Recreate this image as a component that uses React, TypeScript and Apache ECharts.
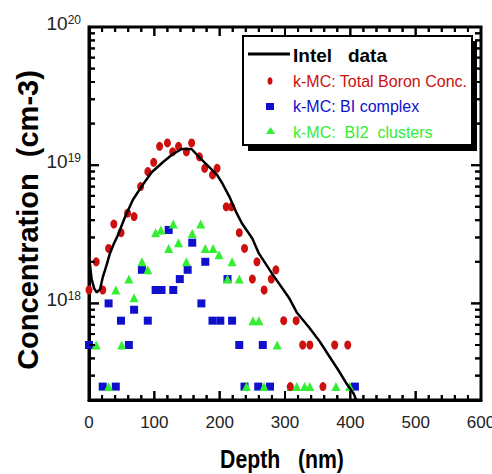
import React, { useEffect, useRef } from "react";
import * as echarts from "echarts";

const FONT = "Liberation Sans, Arial, Helvetica, sans-serif";

// Intel data (line)
const intelX = [0.5, 4, 8, 12, 17, 21, 27, 32, 38, 44, 55, 67, 82, 96, 113, 128, 142, 157, 169, 181, 196, 204, 215, 225, 234, 250, 260, 280, 306, 318, 337, 352, 367, 382, 393, 405, 409];
const intelY = [2.1e18, 1.5e18, 1.28e18, 1.2e18, 1.27e18, 1.54e18, 1.9e18, 2.3e18, 2.7e18, 3.1e18, 4.2e18, 5.6e18, 7.2e18, 8.9e18, 1.05e19, 1.2e19, 1.31e19, 1.31e19, 1.14e19, 1.0e19, 8.5e18, 7.4e18, 5.9e18, 4.6e18, 3.8e18, 2.95e18, 2.3e18, 1.65e18, 1.1e18, 8.6e17, 6.7e17, 5.4e17, 4.2e17, 3.27e17, 2.68e17, 2.23e17, 2.0e17];

// k-MC: Total Boron Conc.
const redX = [0, 11, 21, 30, 38, 49, 59, 69, 79, 90, 99, 108, 120, 128, 137, 149, 157, 169, 177, 189, 196, 210, 218, 230, 238, 250, 257, 268, 279, 286, 298, 308, 317, 327, 338, 358, 376, 396];
const redY = [1.25e18, 2e18, 1.25e18, 2.5e18, 3.75e18, 3.25e18, 4.5e18, 4.25e18, 7e18, 9e18, 1.05e19, 1.37e19, 1.45e19, 1.25e19, 1.37e19, 1.25e19, 1.45e19, 1.15e19, 9.5e18, 8.5e18, 9.5e18, 5e18, 5e18, 3.25e18, 2.5e18, 1.5e18, 2e18, 1.25e18, 1.5e18, 1.75e18, 7.5e17, 2.5e17, 7.5e17, 5e17, 5e17, 2.5e17, 5e17, 5e17];

// k-MC: BI complex
const blueX = [0, 21, 30, 41, 49, 61, 69, 81, 90, 102, 111, 122, 129, 139, 151, 158, 172, 178, 189, 201, 212, 219, 230, 238, 259, 266, 277, 407];
const blueY = [5e17, 2.5e17, 1e18, 2.5e17, 7.5e17, 5e17, 9e17, 1.75e18, 7.5e17, 1.25e18, 1.25e18, 3.4e18, 1.25e18, 1.5e18, 1.75e18, 2.75e18, 1e18, 2e18, 7.5e17, 7.5e17, 1.5e18, 7.5e17, 5e17, 2.5e17, 2.5e17, 5e17, 2.5e17, 2.5e17];

// k-MC: BI2 clusters
const greenX = [11, 30, 41, 50, 61, 69, 81, 90, 102, 110, 122, 129, 137, 149, 158, 171, 178, 190, 199, 212, 219, 230, 241, 251, 260, 268, 288, 309, 318, 330, 338, 378, 399];
const greenY = [5e17, 2.5e17, 1.25e18, 5e17, 1.5e18, 1.1e18, 2e18, 1.75e18, 3.25e18, 3.4e18, 2.5e18, 3.75e18, 2.75e18, 2e18, 3.2e18, 3.75e18, 2.5e18, 2.5e18, 2.25e18, 1.5e18, 2e18, 1.5e18, 2.5e17, 7.5e17, 7.5e17, 2.5e17, 5e17, 2.5e17, 2.5e17, 2.5e17, 2.5e17, 2.5e17, 2.5e17];

// tick values
const xMajorTicks = [100, 200, 300, 400, 500];
const xMinorTicks = [20, 40, 60, 80, 120, 140, 160, 180, 220, 240, 260, 280, 320, 340, 360, 380, 420, 440, 460, 480, 520, 540, 560, 580];
const yMajorTicks = [1e18, 1e19];
const yMinorTicks = [3e17, 4e17, 5e17, 6e17, 7e17, 8e17, 9e17, 2e18, 3e18, 4e18, 5e18, 6e18, 7e18, 8e18, 9e18, 2e19, 3e19, 4e19, 5e19, 6e19, 7e19, 8e19, 9e19];

const X_MIN = 0, X_MAX = 600, Y_MIN = 2e17, Y_MAX = 1e20;

const RED = "#cc1010";
const BLUE = "#1010cc";
const GREEN = "#33ee33";

const zip = (xs: number[], ys: number[]) => xs.map((x, i) => [x, ys[i]]);

type Side = "left" | "right" | "bottom" | "top";

// rectangle (filled) for a tick mark starting at pixel p on the given side
function tickRect(p: number[], side: Side, len: number) {
  const w = 2;
  if (side === "left") return { x: p[0], y: p[1] - w / 2, width: len, height: w };
  if (side === "right") return { x: p[0] - len, y: p[1] - w / 2, width: len, height: w };
  if (side === "bottom") return { x: p[0] - w / 2, y: p[1] - len, width: w, height: len };
  return { x: p[0] - w / 2, y: p[1], width: w, height: len };
}

function tickAnchor(v: number, side: Side): number[] {
  if (side === "left") return [X_MIN, v];
  if (side === "right") return [X_MAX, v];
  if (side === "bottom") return [v, Y_MIN];
  return [v, Y_MAX];
}

function tickSeries(values: number[], side: Side, len: number) {
  const isY = side === "left" || side === "right";
  return {
    type: "custom",
    silent: true,
    data: values.map((v) => (isY ? [X_MIN, v] : [v, Y_MIN])),
    renderItem: (params: any, api: any) => {
      const v = isY ? api.value(1) : api.value(0);
      const p = api.coord(tickAnchor(v, side));
      return { type: "rect", shape: tickRect(p, side, len), style: { fill: "#000" } };
    },
  };
}

const tickSets: [number[], Side, number][] = [
  [yMajorTicks, "left", 10],
  [yMinorTicks, "left", 6],
  [yMajorTicks, "right", 10],
  [yMinorTicks, "right", 6],
  [xMajorTicks, "bottom", 9],
  [xMinorTicks, "bottom", 5],
  [xMajorTicks, "top", 9],
  [xMinorTicks, "top", 5],
];

const legendGraphics = [
  { type: "rect", z: 100, shape: { x: 248, y: 41, width: 229, height: 110 }, style: { fill: "#000" } },
  { type: "rect", z: 101, shape: { x: 243, y: 36, width: 229, height: 109 }, style: { fill: "#fff", stroke: "#000", lineWidth: 2 } },
  { type: "rect", z: 102, shape: { x: 248, y: 52.5, width: 42, height: 3 }, style: { fill: "#000" } },
  {
    type: "text", z: 102, x: 293, y: 55,
    style: { text: "Intel   data", fontSize: 19, fontWeight: "bold", fontFamily: FONT, fill: "#000", textAlign: "left", textVerticalAlign: "middle" },
  },
  { type: "ellipse", z: 102, shape: { cx: 270, cy: 81, rx: 2.5, ry: 3.8 }, style: { fill: RED } },
  {
    type: "text", z: 102, x: 293, y: 81,
    style: { text: "k-MC: Total Boron Conc.", fontSize: 16, fontFamily: FONT, fill: RED, textAlign: "left", textVerticalAlign: "middle" },
  },
  { type: "rect", z: 102, shape: { x: 266, y: 103, width: 8, height: 7 }, style: { fill: BLUE } },
  {
    type: "text", z: 102, x: 293, y: 106,
    style: { text: "k-MC: BI complex", fontSize: 16, fontFamily: FONT, fill: BLUE, textAlign: "left", textVerticalAlign: "middle" },
  },
  { type: "polygon", z: 102, shape: { points: [[266, 134], [275, 134], [270.5, 127]] }, style: { fill: GREEN } },
  {
    type: "text", z: 102, x: 293, y: 132,
    style: { text: "k-MC:  BI2  clusters", fontSize: 16, fontFamily: FONT, fill: GREEN, textAlign: "left", textVerticalAlign: "middle" },
  },
  {
    type: "text", z: 102, x: 282, y: 459, scaleX: 0.85,
    style: { text: "Depth   (nm)", fontSize: 25, fontWeight: "bold", fontFamily: FONT, fill: "#000", textAlign: "center", textVerticalAlign: "middle" },
  },
  {
    type: "text", z: 102, x: 27.5, y: 220, rotation: Math.PI / 2,
    style: { text: "Concentration  (cm-3)", fontSize: 29, fontWeight: "bold", fontFamily: FONT, fill: "#000", textAlign: "center", textVerticalAlign: "middle" },
  },
];

export default function App() {
  const ref = useRef<HTMLDivElement>(null);
  useEffect(() => {
    if (!ref.current) return;
    const chart = echarts.init(ref.current, undefined, { renderer: "svg" });
    const option: any = {
      animation: false,
      grid: {
        left: 89, right: 11, top: 27, bottom: 74,
        outerBoundsMode: "none", containLabel: false,
        show: true, borderColor: "#000", borderWidth: 3, backgroundColor: "transparent",
      },
      xAxis: {
        type: "value",
        min: X_MIN,
        max: X_MAX,
        interval: 100,
        axisLine: { show: true, onZero: false, lineStyle: { color: "#000", width: 3 } },
        axisTick: { show: false },
        minorTick: { show: false },
        splitLine: { show: false },
        minorSplitLine: { show: false },
        axisLabel: { show: true, fontSize: 17, color: "#222", margin: 14, fontFamily: FONT },
      },
      yAxis: {
        type: "log",
        min: Y_MIN,
        max: Y_MAX,
        axisLine: { show: true, onZero: false, lineStyle: { color: "#000", width: 3 } },
        axisTick: { show: false },
        minorTick: { show: false },
        splitLine: { show: false },
        axisLabel: {
          show: true,
          margin: 8,
          padding: [0, 0, 8, 0],
          formatter: (v: number) => {
            const e = Math.log10(v);
            if (Math.abs(e - Math.round(e)) > 1e-6) return "";
            return `{b|10}{s|${Math.round(e)}}`;
          },
          rich: {
            b: { fontSize: 19, lineHeight: 19, color: "#222", fontFamily: FONT, padding: [8, 0, 0, 0], verticalAlign: "bottom" },
            s: { fontSize: 12, lineHeight: 12, color: "#222", fontFamily: FONT, verticalAlign: "top" },
          },
        },
      },
      series: [
        {
          type: "line",
          name: "Intel data",
          data: zip(intelX, intelY),
          showSymbol: false,
          symbol: "none",
          lineStyle: { color: "#000", width: 2.5 },
        },
        {
          type: "scatter",
          name: "k-MC: BI complex",
          data: zip(blueX, blueY),
          symbol: "rect",
          symbolSize: [8, 8],
          itemStyle: { color: BLUE, opacity: 1 },
        },
        {
          type: "scatter",
          name: "k-MC: BI2 clusters",
          data: zip(greenX, greenY),
          symbol: "triangle",
          symbolSize: [9, 9],
          itemStyle: { color: GREEN, opacity: 1 },
        },
        {
          type: "scatter",
          name: "k-MC: Total Boron Conc.",
          data: zip(redX, redY),
          symbol: "circle",
          symbolSize: [7, 9],
          itemStyle: { color: RED, opacity: 1 },
        },
        ...tickSets.map(([vals, side, len]) => tickSeries(vals, side, len)),
      ],
      graphic: legendGraphics,
    };
    chart.setOption(option);

    // second copy of the tick marks as graphic rects, placed via the chart's own scales
    const extra: any[] = [];
    tickSets.forEach(([vals, side, len]) => {
      vals.forEach((v) => {
        const p = chart.convertToPixel({ xAxisIndex: 0, yAxisIndex: 0 } as any, tickAnchor(v, side)) as any;
        if (p && isFinite(p[0]) && isFinite(p[1])) {
          extra.push({ type: "rect", z: 90, silent: true, shape: tickRect(p, side, len), style: { fill: "#000" } });
        }
      });
    });
    if (extra.length) chart.setOption({ graphic: [...legendGraphics, ...extra] });
    return () => chart.dispose();
  }, []);
  return (
    <div
      ref={ref}
      style={{ position: "fixed", left: 0, top: 0, width: 492, height: 474, background: "#fff" }}
    />
  );
}
